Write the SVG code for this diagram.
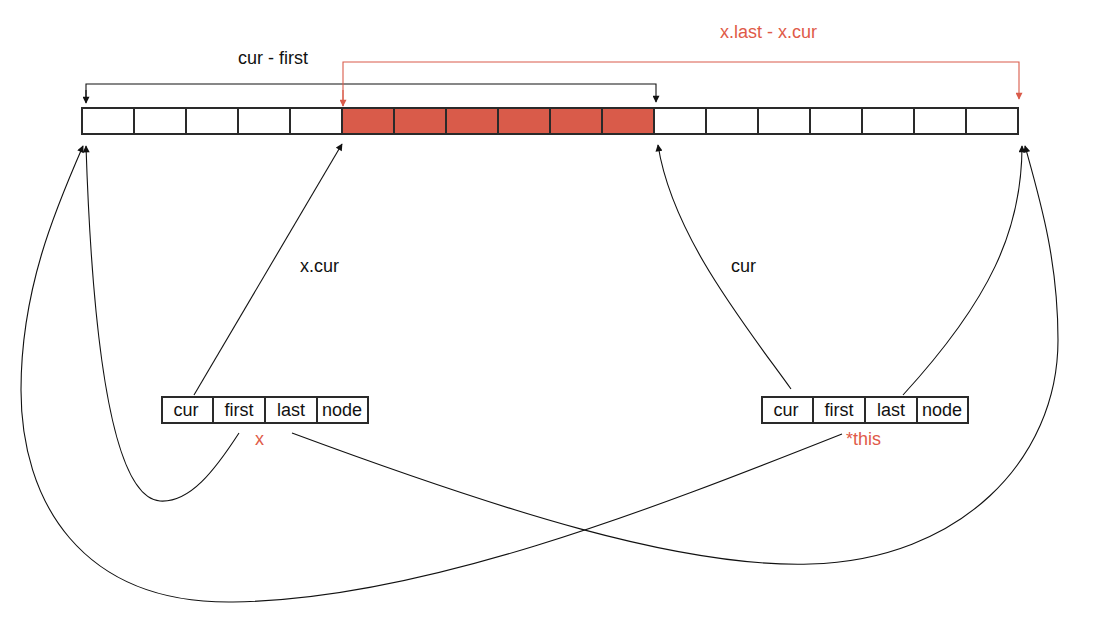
<svg xmlns="http://www.w3.org/2000/svg" width="1098" height="630" viewBox="0 0 1098 630">
<defs>
<style>
.cell{fill:#fff;stroke:#2a2a2a;stroke-width:2}
.red{fill:#d95b4a;stroke:#2a2a2a;stroke-width:2}
.lbl{font-family:"Liberation Sans",Arial,sans-serif;font-size:18px;fill:#111}
.rlbl{font-family:"Liberation Sans",Arial,sans-serif;font-size:18px;fill:#e05a48}
.btxt{font-family:"Liberation Sans",Arial,sans-serif;font-size:18px;fill:#111;text-anchor:middle}
.conn{fill:none;stroke:#111;stroke-width:1.1}
.rconn{fill:none;stroke:#d95b4a;stroke-width:1.1}
</style>
<marker id="ah" viewBox="0 0 10 10" refX="9" refY="5" markerWidth="8" markerHeight="7" markerUnits="userSpaceOnUse" orient="auto">
<path d="M0,0 L10,5 L0,10 z" fill="#111"/>
</marker>
<marker id="rah" viewBox="0 0 10 10" refX="9" refY="5" markerWidth="8" markerHeight="7" markerUnits="userSpaceOnUse" orient="auto">
<path d="M0,0 L10,5 L0,10 z" fill="#d95b4a"/>
</marker>
</defs>
<rect width="1098" height="630" fill="#fff"/>

<g id="array">
<rect class="cell" x="82" y="108" width="52" height="26"/>
<rect class="cell" x="134" y="108" width="52" height="26"/>
<rect class="cell" x="186" y="108" width="52" height="26"/>
<rect class="cell" x="238" y="108" width="52" height="26"/>
<rect class="cell" x="290" y="108" width="52" height="26"/>
<rect class="red" x="342" y="108" width="52" height="26"/>
<rect class="red" x="394" y="108" width="52" height="26"/>
<rect class="red" x="446" y="108" width="52" height="26"/>
<rect class="red" x="498" y="108" width="52" height="26"/>
<rect class="red" x="550" y="108" width="52" height="26"/>
<rect class="red" x="602" y="108" width="52" height="26"/>
<rect class="cell" x="654" y="108" width="52" height="26"/>
<rect class="cell" x="706" y="108" width="52" height="26"/>
<rect class="cell" x="758" y="108" width="52" height="26"/>
<rect class="cell" x="810" y="108" width="52" height="26"/>
<rect class="cell" x="862" y="108" width="52" height="26"/>
<rect class="cell" x="914" y="108" width="52" height="26"/>
<rect class="cell" x="966" y="108" width="52" height="26"/>
</g>

<g id="x">
<rect class="cell" x="162" y="397" width="51" height="26"/>
<rect class="cell" x="213" y="397" width="52" height="26"/>
<rect class="cell" x="265" y="397" width="52" height="26"/>
<rect class="cell" x="317" y="397" width="51" height="26"/>
<text class="btxt" x="186" y="416">cur</text>
<text class="btxt" x="239" y="416">first</text>
<text class="btxt" x="291" y="416">last</text>
<text class="btxt" x="342" y="416">node</text>
<text class="rlbl" x="255" y="445" font-size="17">x</text>
</g>

<g id="this">
<rect class="cell" x="762" y="397" width="51" height="26"/>
<rect class="cell" x="813" y="397" width="52" height="26"/>
<rect class="cell" x="865" y="397" width="52" height="26"/>
<rect class="cell" x="917" y="397" width="51" height="26"/>
<text class="btxt" x="786" y="416">cur</text>
<text class="btxt" x="839" y="416">first</text>
<text class="btxt" x="891" y="416">last</text>
<text class="btxt" x="942" y="416">node</text>
<text class="rlbl" x="846" y="445">*this</text>
</g>

<g id="labels">
<text class="lbl" x="238" y="64">cur - first</text>
<text class="rlbl" x="720" y="38">x.last - x.cur</text>
<text class="lbl" x="300" y="272">x.cur</text>
<text class="lbl" x="731" y="272">cur</text>
</g>

<g id="connectors">
<path class="conn" d="M86,102 L86,84 L656,84 L656,102" marker-end="url(#ah)"/>
<path class="conn" d="M86,90 L86,103" marker-end="url(#ah)"/>
<path class="rconn" d="M343,106 L343,62 L1019,62 L1019,99" marker-end="url(#rah)"/>
<path class="rconn" d="M343,90 L343,106" marker-end="url(#rah)"/>
<path class="conn" d="M194,395 L342,144" marker-end="url(#ah)"/>
<path class="conn" d="M791,389 C745,325 672,235 658,145" marker-end="url(#ah)"/>
<path class="conn" d="M903,395 C990,300 1022,230 1022,146" marker-end="url(#ah)"/>
<path class="conn" d="M239,433 C215,470 190,503 160,501 C110,497 92,330 86,146" marker-end="url(#ah)"/>
<path class="conn" d="M842,434 C650,510 420,600 233,602 C80,604 21,500 21,390 C21,290 55,210 83,146" marker-end="url(#ah)"/>
<path class="conn" d="M292,433 C500,510 680,568 810,564 C960,560 1058,460 1058,340 C1058,260 1040,200 1025,146" marker-end="url(#ah)"/>
</g>
</svg>
